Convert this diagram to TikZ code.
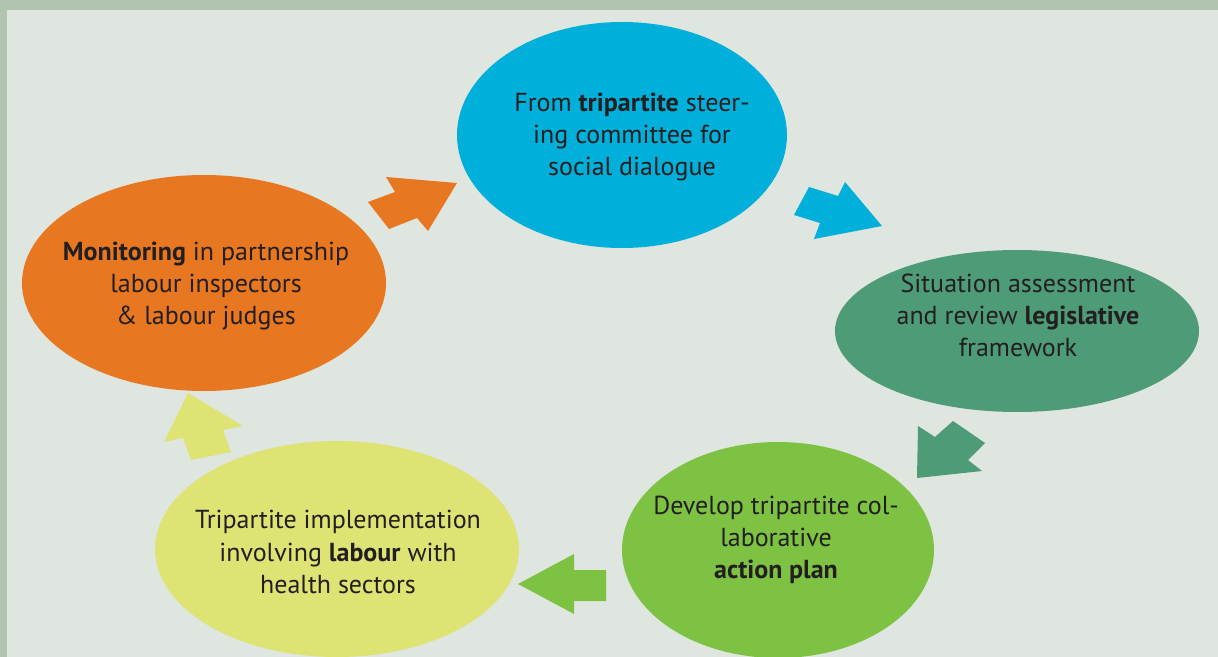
\documentclass[tikz,border=0pt]{standalone}
\usepackage{fontspec}
\setmainfont{PT Sans}
\usetikzlibrary{shapes.geometric}
\definecolor{framegreen}{HTML}{B1C4B0}
\definecolor{paper}{HTML}{DFE5DF}
\definecolor{inkgray}{HTML}{231F20}
\definecolor{cyclblue}{HTML}{00B0DA}
\definecolor{cyclteal}{HTML}{4E9B78}
\definecolor{cyclgreen}{HTML}{7DC242}
\definecolor{cyclyellow}{HTML}{DDE474}
\definecolor{cyclorange}{HTML}{E87722}
\def\px{0.025cm}

\begin{document}
\begin{tikzpicture}[x=0.025cm, y=-0.025cm,
	stage/.style={ellipse, inner sep=0pt},
	stagetext/.style={text=inkgray, align=center, font=\fontsize{18.5}{22.8}\selectfont}]
			%%%%% START %%%%%
			\useasboundingbox (0, 0) rectangle (1218, 657);
			\fill[framegreen] (0, 0) rectangle (1218, 657);
			\fill[paper] (7, 10) rectangle (1218, 657);
			
			\node[stage, fill=cyclblue, minimum width=330*\px, minimum height=226*\px] (steer) at (622, 135) {};
			\node[stagetext] (steertxt) at (632, 137)
				{From \textbf{tripartite} steer-\\ing committee for\\social dialogue};
			
			\node[stage, fill=cyclteal, minimum width=364*\px, minimum height=162*\px] (assess) at (1017, 331) {};
			\node[stagetext] (assesstxt) at (1018, 315)
				{Situation assessment\\and review \textbf{legislative}\\framework};
			
			\node[stage, fill=cyclgreen, minimum width=312*\px, minimum height=216*\px] (plan) at (778, 550) {};
			\node[stagetext] (plantxt) at (776, 540)
				{Develop tripartite col-\\laborative\\\textbf{action plan}};
			
			\node[stage, fill=cyclyellow, minimum width=364*\px, minimum height=216*\px] (implement) at (337, 549) {};
			\node[stagetext] (implementtxt) at (338, 552)
				{Tripartite implementation\\involving \textbf{labour} with\\health sectors};
			
			\node[stage, fill=cyclorange, minimum width=364*\px, minimum height=216*\px] (monitor) at (204, 283) {};
			\node[stagetext] (monitortxt) at (206, 286)
				{\textbf{Monitoring} in partnership\\labour inspectors\\\& labour judges};
			
			% block arrows round the cycle
			\fill[cyclorange] (368, 202) -- (395, 192) -- (386, 177) -- (457, 183) -- (428, 231) -- (417, 218) -- (389, 229) -- cycle;
			\fill[cyclblue] (794, 215) -- (809, 187) -- (838, 196) -- (845, 182) -- (882, 226) -- (814, 239) -- (820, 223) -- cycle;
			\fill[cyclteal] (918, 426) -- (935, 437) -- (953, 421) -- (985, 443) -- (968, 460) -- (982, 471) -- (917, 478) -- cycle;
			\fill[cyclgreen] (518, 584) -- (574, 554) -- (574, 570) -- (606, 570) -- (606, 601) -- (574, 601) -- (574, 614) -- cycle;
			\fill[cyclyellow] (188, 393) -- (243, 426) -- (223, 430) -- (231, 452) -- (191, 460) -- (183, 438) -- (164, 442) -- cycle;
			
			%%%%% END %%%%%
\end{tikzpicture}
\end{document}
